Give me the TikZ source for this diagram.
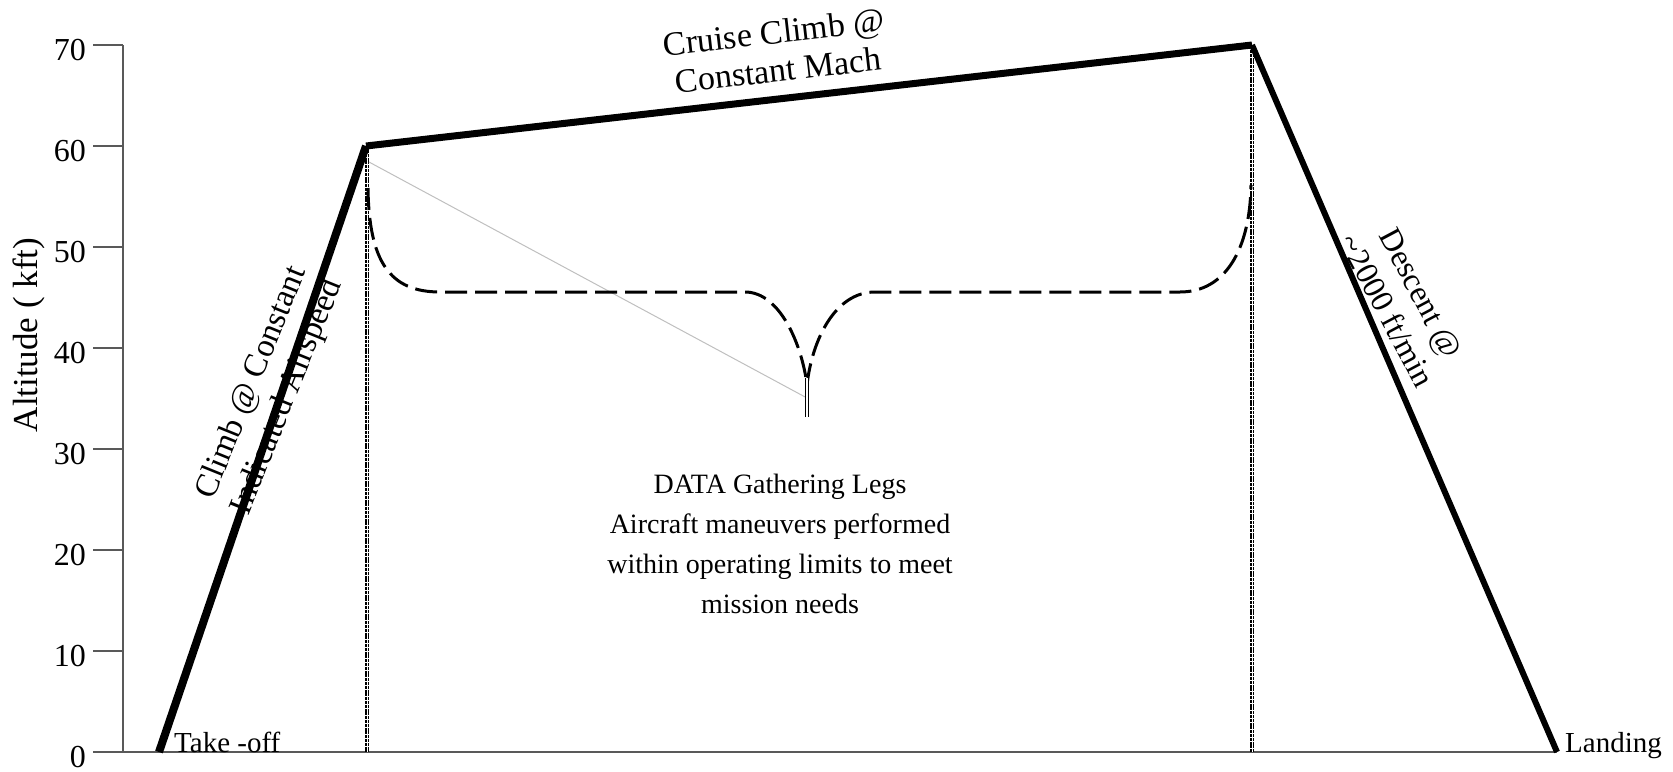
\documentclass[tikz,border=0pt]{standalone}
\usepackage{fontspec}
\setmainfont{Liberation Serif}
\begin{document}
\begin{tikzpicture}[x=1pt,y=-1pt,
  axisline/.style={draw=black!65, line width=1.5pt},
  flight/.style={draw=black, line cap=butt, line join=miter},
  legdash/.style={draw=black, line width=3pt, dash pattern=on 22pt off 8pt},
  vdot/.style={draw=black, line width=1.3pt, double=white, double distance=0.7pt, dash pattern=on 3pt off 0.8pt},
  guide/.style={draw=black!25, line width=1pt},
  ticklbl/.style={inner sep=0pt, anchor=base east, font=\fontsize{32}{38}\selectfont},
  lbl/.style={inner sep=0pt, align=center}
]
\useasboundingbox (0,0) rectangle (1673,771);

% axes
\coordinate (ax0) at (93,752);
\coordinate (axR) at (1557,752);
\coordinate (axB) at (123,752);
\coordinate (axT) at (123,45);
\draw[axisline] (ax0) -- (axR);
\draw[axisline] (axB) -- (axT);
\foreach \v in {10,20,...,70}{
  \coordinate (tk\v) at (93,{752-10.1*\v});
  \coordinate (tkr\v) at (123,{752-10.1*\v});
  \draw[axisline] (tk\v) -- (tkr\v);
}
\foreach \v in {0,10,...,70}{
  \node[ticklbl] (t\v) at (86,{752-10.1*\v+15}) {\v};
}
\node[inner sep=0pt, rotate=90, font=\fontsize{35}{40}\selectfont] (ylab) at (29,335) {Altitude ( kft)};

% labels
\node[lbl, anchor=base west, font=\fontsize{29}{34}\selectfont] (tof) at (174,752) {Take -off};
\node[lbl, anchor=base west, font=\fontsize{29}{34}\selectfont] (lnd) at (1565,752) {Landing};
\node[lbl, rotate=6.5, font=\fontsize{34}{38}\selectfont] (cruise) at (776,51) {Cruise Climb @\\Constant Mach};
\node[lbl, rotate=68, font=\fontsize{33}{38}\selectfont] (climb) at (270,390) {Climb @ Constant\\Indicated Airspeed};
\node[lbl, rotate=-62, font=\fontsize{32}{38}\selectfont] (desc) at (1404,302) {Descent @\\\textasciitilde2000 ft/min};
\node[lbl, font=\fontsize{28}{40}\selectfont] (data) at (780,544) {DATA Gathering Legs\\Aircraft maneuvers performed\\within operating limits to meet\\mission needs};

% vertical dotted lines
\coordinate (v1t) at (367,150);
\coordinate (v1b) at (367,752);
\coordinate (v2t) at (1252,50);
\coordinate (v2b) at (1252,752);
\draw[vdot] (v1t) -- (v1b);
\draw[vdot] (v2t) -- (v2b);

% thin guide line
\coordinate (g1) at (369,162);
\coordinate (g2) at (807,398);
\draw[guide] (g1) -- (g2);

% dashed data-gathering profile
\coordinate (d0) at (368,188);
\coordinate (d1) at (440,292);
\coordinate (d2) at (745,292);
\coordinate (dv) at (807,385);
\coordinate (d3) at (875,292);
\coordinate (d4) at (1180,292);
\coordinate (d5) at (1251,185);
\draw[legdash] (d0) .. controls (369,262) and (390,292) .. (d1) -- (d2)
  .. controls (780,292) and (802,345) .. (dv)
  .. controls (812,340) and (835,292) .. (d3) -- (d4)
  .. controls (1225,292) and (1250,250) .. (d5);
\coordinate (st1) at (807,378);
\coordinate (st2) at (807,417);
\draw[draw=black, line width=0.8pt, double=white, double distance=1.5pt] (st1) -- (st2);

% flight profile
\coordinate (takeoff) at (159,752);
\coordinate (top1) at (366,146);
\coordinate (top2) at (1252,45);
\coordinate (landing) at (1557,752);
\draw[flight, line width=8pt] (takeoff) -- (top1);
\draw[flight, line width=7pt] (top1) -- (top2);
\draw[flight, line width=6pt] (top2) -- (landing);
\end{tikzpicture}
\end{document}
